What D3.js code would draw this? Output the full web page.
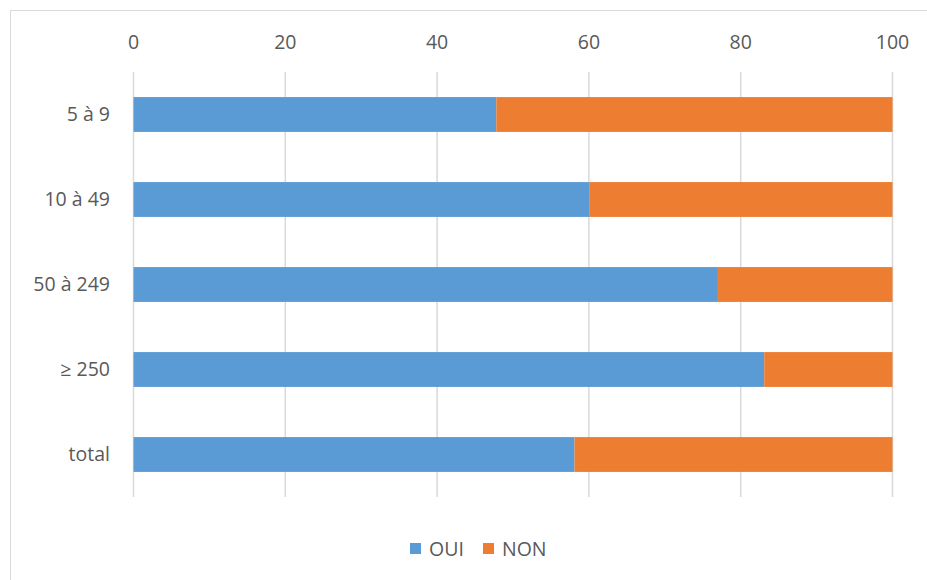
<!DOCTYPE html>
<html lang="fr">
<head>
    <meta charset="UTF-8">
    <title>OUI / NON par taille</title>
    <script src="https://d3js.org/d3.v7.min.js"></script>
    <style>
        body { margin: 0; background: #fff; }
        text { font-family: "Open Sans", "Noto Sans", sans-serif; fill: #595959; }
    </style>
</head>
<body>
    <svg id="chart" width="927" height="580"></svg>
    <script>
        const categories = ["5 à 9", "10 à 49", "50 à 249", "≥ 250", "total"];
        const oui = [47.8, 60.1, 77.0, 83.1, 58.1];
        const non = [52.2, 39.9, 23.0, 16.9, 41.9];
        const seriesNames = ["OUI", "NON"];
        const colors = ["#5b9bd5", "#ed7d31"];
        const xTicks = [0, 20, 40, 60, 80, 100];

        const svg = d3.select("#chart");

        // chart frame (only left and top visible in the picture)
        svg.append("rect")
            .attr("x", 10.5).attr("y", 10.5)
            .attr("width", 940).attr("height", 600)
            .attr("fill", "none")
            .attr("stroke", "#d9d9d9");

        const x = d3.scaleLinear().domain([0, 100]).range([133.5, 892.5]);
        const y = d3.scaleBand().domain(categories).range([72, 497]).paddingInner(0.59).paddingOuter(0.295);

        // gridlines
        svg.append("g")
            .selectAll("line")
            .data(xTicks)
            .join("line")
            .attr("x1", d => x(d)).attr("x2", d => x(d))
            .attr("y1", 72).attr("y2", 497)
            .attr("stroke", "#d9d9d9")
            .attr("stroke-width", 1.5);

        // tick labels on top
        svg.append("g")
            .selectAll("text")
            .data(xTicks)
            .join("text")
            .attr("x", d => x(d))
            .attr("y", 49)
            .attr("text-anchor", "middle")
            .attr("font-size", "19.5px")
            .text(d => d);

        // stacked bars
        const rows = categories.map((c, i) => ({ cat: c, OUI: oui[i], NON: non[i] }));
        const stack = d3.stack().keys(seriesNames)(rows);

        svg.append("g")
            .selectAll("g")
            .data(stack)
            .join("g")
            .attr("fill", (d, i) => colors[i])
            .selectAll("rect")
            .data(d => d)
            .join("rect")
            .attr("x", d => x(d[0]))
            .attr("width", d => x(d[1]) - x(d[0]))
            .attr("y", d => y(d.data.cat))
            .attr("height", y.bandwidth());

        // category labels
        svg.append("g")
            .selectAll("text")
            .data(categories)
            .join("text")
            .attr("x", 110)
            .attr("y", d => y(d) + y.bandwidth() / 2)
            .attr("dy", "0.35em")
            .attr("text-anchor", "end")
            .attr("font-size", "19.5px")
            .text(d => d);

        // legend
        const legendX = [410, 483];
        const legend = svg.append("g")
            .selectAll("g")
            .data(seriesNames)
            .join("g")
            .attr("transform", (d, i) => `translate(${legendX[i]},543)`);

        legend.append("rect")
            .attr("width", 11).attr("height", 11)
            .attr("fill", (d, i) => colors[i]);

        legend.append("text")
            .attr("x", 19)
            .attr("y", 5.5)
            .attr("dy", "0.36em")
            .attr("font-size", "19.5px")
            .text(d => d);
    </script>
</body>
</html>
